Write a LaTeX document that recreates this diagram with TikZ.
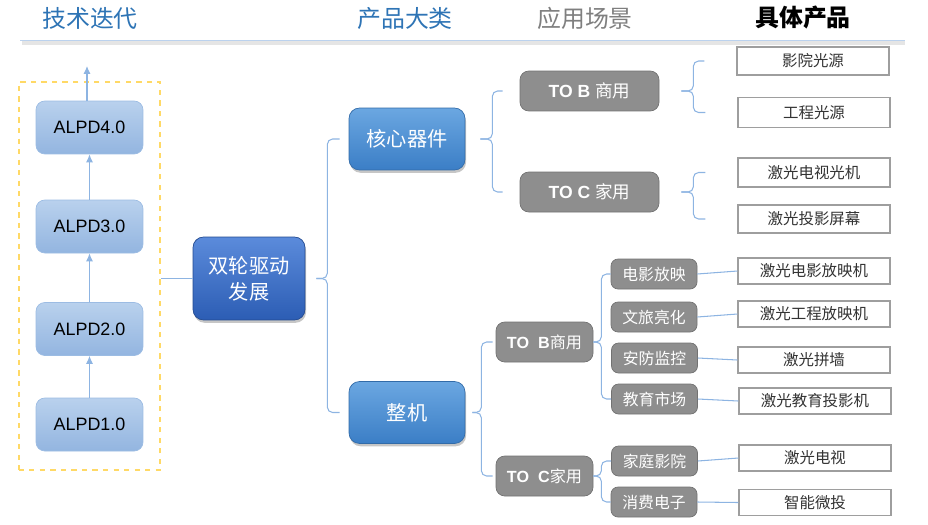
\documentclass[tikz,border=0pt]{standalone}
\usepackage{fontspec}
\setmainfont{Liberation Sans}
\newfontfamily\cjk{Noto Sans CJK SC}
\usetikzlibrary{arrows.meta,shadows,fit,calc}
\definecolor{hdblue}{HTML}{2E74B5}
\definecolor{hdgray}{HTML}{7F7F7F}
\definecolor{linkblue}{HTML}{8DB4E2}
\definecolor{alpdtop}{HTML}{B9D1ED}
\definecolor{alpdbot}{HTML}{93B5E0}
\definecolor{alpdline}{HTML}{9CBCE3}
\definecolor{ctrtop}{HTML}{5B8BDB}
\definecolor{ctrbot}{HTML}{2C5DB4}
\definecolor{cattop}{HTML}{6BA7E1}
\definecolor{catbot}{HTML}{3B7EC6}
\definecolor{boxgray}{HTML}{8E8E8E}
\definecolor{framey}{HTML}{FFD966}
\tikzset{
  hd/.style={font=\cjk\fontsize{13.6}{16}\selectfont},
  link/.style={draw=linkblue,line width=0.6pt},
  brace/.style={link,rounded corners=3pt},
  arrow/.style={link,-{Latex[length=4.5pt,width=4pt]}},
  alpd/.style={draw=alpdline,rounded corners=5pt,top color=alpdtop,bottom color=alpdbot,
    minimum width=2.14cm,minimum height=1.06cm,font=\fontsize{10.2}{12}\selectfont},
  ctrbox/.style={draw=ctrbot!80!black,rounded corners=6pt,top color=ctrtop,bottom color=ctrbot,
    minimum width=2.24cm,minimum height=1.66cm,text=white,align=center,
    font=\cjk\fontsize{11.5}{14.7}\selectfont,
    drop shadow={shadow xshift=0.6pt,shadow yshift=-1.6pt,opacity=0.45}},
  catbox/.style={draw=catbot!85!black,rounded corners=6pt,top color=cattop,bottom color=catbot,
    minimum width=2.32cm,minimum height=1.24cm,text=white,font=\cjk\fontsize{11.5}{14}\selectfont,
    drop shadow={shadow xshift=0.6pt,shadow yshift=-1.6pt,opacity=0.45}},
  usebox/.style={draw=boxgray!80!black,fill=boxgray,rounded corners=5pt,text=white,
    minimum height=0.8cm,font=\fontsize{10}{12}\selectfont},
  subbox/.style={draw=boxgray!80!black,fill=boxgray,rounded corners=4pt,text=white,
    minimum width=1.72cm,minimum height=0.6cm,font=\cjk\fontsize{9}{11}\selectfont},
  prodbox/.style={draw=black!38,line width=0.7pt,fill=white,minimum width=3.04cm,text=black!80,
    font=\cjk\fontsize{8.8}{10}\selectfont}
}
\begin{document}
\begin{tikzpicture}[x=0.02cm,y=-0.02cm,>=latex]
\useasboundingbox (0,0) rectangle (928,524);
% headers
\node[hd,text=hdblue] (h1) at (90,18) {技术迭代};
\node[hd,text=hdblue] (h2) at (405,18) {产品大类};
\node[hd,text=hdgray] (h3) at (585,18) {应用场景};
\node[hd,text=black,font=\cjk\bfseries\fontsize{13.6}{16}\selectfont] (h4) at (803,18) {具体产品};
\draw[black!10,line width=2.2pt] (22,43) -- (905,43);
\draw[linkblue!60,line width=1.1pt] (20,40.5) -- (905,40.5);
% technology steps
\node[alpd] (a1) at (89.5,424.5) {ALPD1.0};
\node[alpd] (a2) at (89.5,329) {ALPD2.0};
\node[alpd] (a3) at (89.5,226.5) {ALPD3.0};
\node[alpd] (a4) at (89.5,127.5) {ALPD4.0};
\coordinate (up) at (87,66);
\node[draw=framey,dashed,line width=1.3pt,fit=(a1)(a4),inner xsep=0.34cm,inner ysep=0.37cm] (frm) {};
\draw[arrow] (a1) -- (a2);
\draw[arrow] (a2) -- (a3);
\draw[arrow] (a3) -- (a4);
\draw[arrow] (a4.north -| up) -- (up);
% centre
\node[ctrbox] (ctr) at (249,278.5) {双轮驱动\\发展};
\draw[link] (frm.east |- ctr) -- (ctr.west);
% categories
\node[catbox] (hx) at (407,139) {核心器件};
\node[catbox] (zj) at (407,412.5) {整机};
\foreach \c in {hx,zj}
  \draw[brace] ($(ctr.east)+(11,0)$) -- ++(11,0) |- ($(\c.west)+(-9,0)$);
% core parts
\node[usebox,minimum width=2.78cm] (tob) at (589.5,91) {\textbf{TO B} {\cjk 商用}};
\node[usebox,minimum width=2.78cm] (toc) at (589.5,192) {\textbf{TO C} {\cjk 家用}};
\foreach \c in {tob,toc}
  \draw[brace] ($(hx.east)+(15,0)$) -- ++(12,0) |- ($(\c.west)+(-17,0)$);
\node[prodbox,minimum height=0.56cm] (p1) at (813,61) {影院光源};
\node[prodbox,minimum height=0.6cm] (p2) at (814,112.5) {工程光源};
\node[prodbox,minimum height=0.58cm] (p3) at (814,172.5) {激光电视光机};
\node[prodbox,minimum height=0.56cm] (p4) at (814,219) {激光投影屏幕};
\foreach \a/\b in {tob/p1,tob/p2,toc/p3,toc/p4}
  \draw[brace] ($(\a.east)+(22,0)$) -- ++(12,0) |- ($(\b.west)+(-32,0)$);
% complete machines
\node[usebox,minimum width=1.94cm,font=\fontsize{9.2}{11}\selectfont] (lb) at (544.5,342) {\textbf{TO\ \ B}{\cjk 商用}};
\node[usebox,minimum width=1.94cm,font=\fontsize{9.2}{11}\selectfont] (lc) at (544.5,476) {\textbf{TO\ \ C}{\cjk 家用}};
\foreach \c in {lb,lc}
  \draw[brace] ($(zj.east)+(7,0)$) -- ++(9,0) |- ($(\c.west)+(-3,0)$);
\node[subbox] (s1) at (654,274) {电影放映};
\node[subbox] (s2) at (654,317) {文旅亮化};
\node[subbox] (s3) at (654.5,358) {安防监控};
\node[subbox] (s4) at (654.5,399) {教育市场};
\node[subbox] (s5) at (654.5,461) {家庭影院};
\node[subbox] (s6) at (654,502) {消费电子};
\foreach \a/\b in {lb/s1,lb/s4,lc/s5,lc/s6}
  \draw[brace] (\a.east) -- ++(8,0) |- (\b.west);
\node[prodbox,minimum height=0.48cm] (q1) at (814,271) {激光电影放映机};
\node[prodbox,minimum height=0.48cm] (q2) at (814,314) {激光工程放映机};
\node[prodbox,minimum height=0.48cm] (q3) at (814,360) {激光拼墙};
\node[prodbox,minimum height=0.48cm] (q4) at (815,401) {激光教育投影机};
\node[prodbox,minimum height=0.48cm] (q5) at (815,458) {激光电视};
\node[prodbox,minimum height=0.46cm] (q6) at (815,502.5) {智能微投};
\foreach \i in {1,...,6}
  \draw[link] (s\i.east) -- (q\i.west);
\end{tikzpicture}
\end{document}
